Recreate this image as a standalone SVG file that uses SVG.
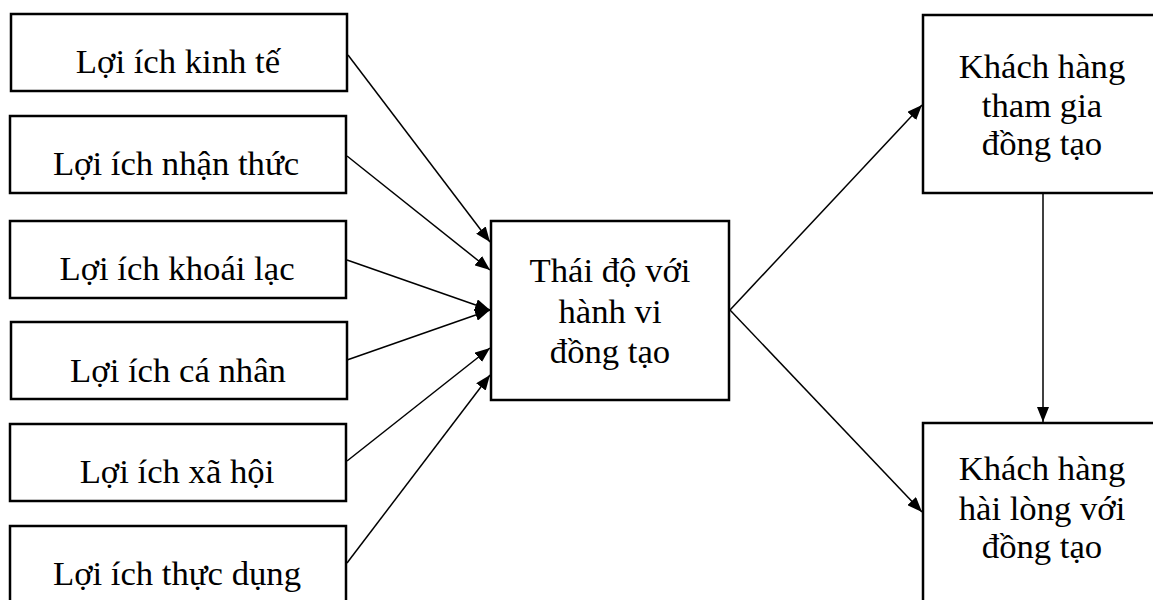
<svg xmlns="http://www.w3.org/2000/svg" width="1153" height="600" viewBox="0 0 1153 600">
<style>
.box{fill:#fff;stroke:#000;stroke-width:2.5}
.t{font-family:"Liberation Serif","Times New Roman",serif;font-size:34.7px;fill:#000;text-anchor:middle}
.c{stroke:#000;stroke-width:1.5;fill:none;marker-end:url(#ah)}
</style>
<defs>
<marker id="ah" viewBox="0 0 15 12" refX="15" refY="6" markerWidth="15" markerHeight="12" markerUnits="userSpaceOnUse" orient="auto">
<path d="M0,0 L15,6 L0,12 Z" fill="#000"/>
</marker>
</defs>
<rect width="1153" height="600" fill="#fff"/>
<g id="n1"><rect class="box" x="11" y="14" width="336" height="77"/><text class="t" x="178" y="73">Lợi ích kinh tế</text></g>
<g id="n2"><rect class="box" x="10" y="116" width="336" height="77"/><text class="t" x="176" y="175">Lợi ích nhận thức</text></g>
<g id="n3"><rect class="box" x="10" y="221" width="336" height="77"/><text class="t" x="177" y="280">Lợi ích khoái lạc</text></g>
<g id="n4"><rect class="box" x="11" y="322" width="336" height="77"/><text class="t" x="178" y="382">Lợi ích cá nhân</text></g>
<g id="n5"><rect class="box" x="10" y="424" width="336" height="77"/><text class="t" x="177" y="483">Lợi ích xã hội</text></g>
<g id="n6"><rect class="box" x="10" y="526" width="336" height="90"/><text class="t" x="177" y="585">Lợi ích thực dụng</text></g>
<g id="center"><rect class="box" x="491" y="221" width="238" height="179"/>
<text class="t" x="610" y="282">Thái độ với</text><text class="t" x="610" y="323">hành vi</text><text class="t" x="610" y="363">đồng tạo</text></g>
<g id="r1"><rect class="box" x="923" y="15" width="240" height="178"/>
<text class="t" x="1042" y="78">Khách hàng</text><text class="t" x="1042" y="117">tham gia</text><text class="t" x="1042" y="155">đồng tạo</text></g>
<g id="r2"><rect class="box" x="923" y="423" width="240" height="190"/>
<text class="t" x="1042" y="480">Khách hàng</text><text class="t" x="1042" y="520">hài lòng với</text><text class="t" x="1042" y="558">đồng tạo</text></g>
<g id="connectors">
<line class="c" x1="348" y1="55" x2="490" y2="242"/>
<line class="c" x1="347" y1="156" x2="490" y2="270"/>
<line class="c" x1="347" y1="260" x2="490" y2="310"/>
<line class="c" x1="347" y1="360" x2="490" y2="310"/>
<line class="c" x1="347" y1="461" x2="490" y2="348"/>
<line class="c" x1="347" y1="563" x2="490" y2="375"/>
<line class="c" x1="730" y1="310" x2="922" y2="105"/>
<line class="c" x1="730" y1="310" x2="922" y2="512"/>
<line class="c" x1="1043" y1="194" x2="1043" y2="422"/>
</g>
</svg>
